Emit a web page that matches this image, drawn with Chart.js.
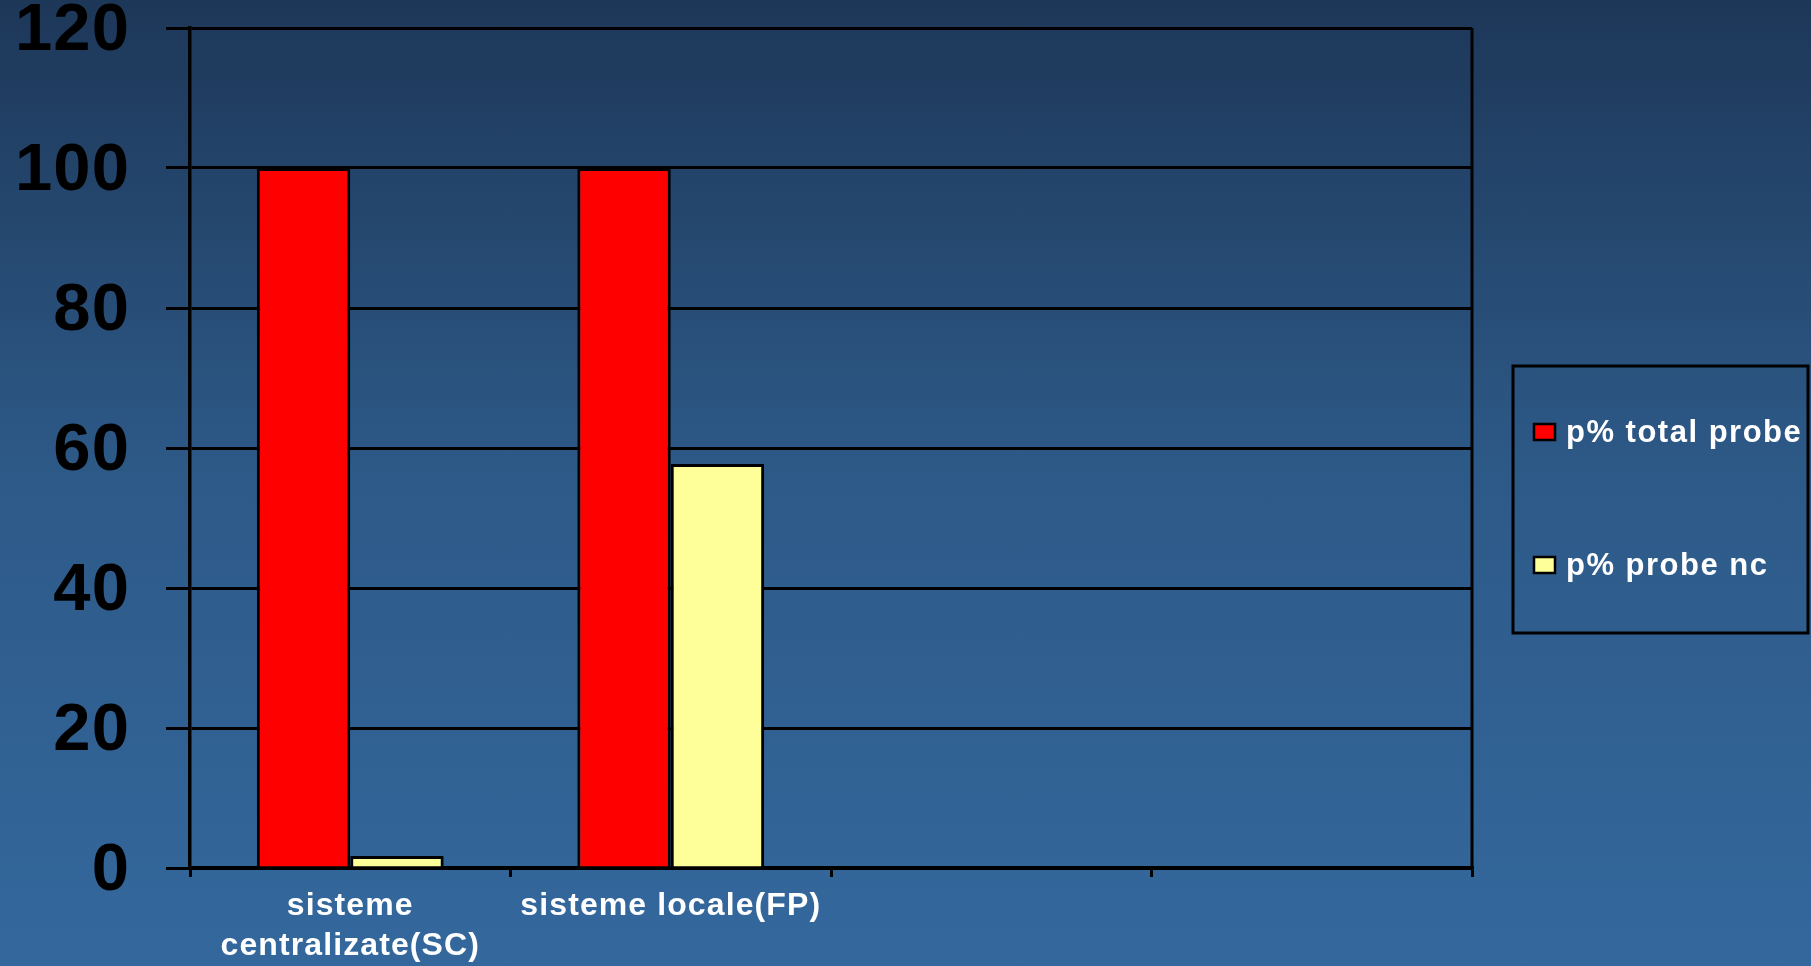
<!DOCTYPE html>
<html lang="ro">
<head>
  <meta charset="UTF-8" />
  <title>Probe sisteme centralizate / locale</title>
  <script src="https://cdn.jsdelivr.net/npm/chart.js"></script>
  <style>
    html, body {
      margin: 0;
      padding: 0;
      width: 100%;
      height: 100%;
      overflow: hidden;
      background: linear-gradient(to bottom, #1d3758 0%, #2d5987 48%, #34689d 100%);
    }
    #chart-container {
      position: relative;
      width: 100vw;
      height: 100vh;
    }
  </style>
</head>
<body>
  <div id="chart-container">
    <canvas id="probeChart"></canvas>
  </div>

  <script>
    // categories (last two are empty slots on the axis)
    const categories = [['sisteme', 'centralizate(SC)'], 'sisteme locale(FP)', '', ''];
    const seriesNames = ['p% total probe', 'p% probe nc'];
    const totalProbe = [100, 100, null, null];
    const probeNc = [1.7, 57.7, null, null];
    const yTicks = [0, 20, 40, 60, 80, 100, 120];

    const FONT = '"Liberation Sans", Arial, sans-serif';
    const colors = ['#ff0000', '#ffff99'];

    // slightly wider letter spacing for the axis text
    Chart.register({
      id: 'spacedText',
      beforeDraw(chart) {
        chart.ctx.letterSpacing = '1.1px';
      }
    });

    // frame on the right side of the plot + boxed legend
    Chart.register({
      id: 'frameAndLegend',
      afterDraw(chart) {
        const ctx = chart.ctx;
        const area = chart.chartArea;
        ctx.save();
        ctx.strokeStyle = '#000000';
        ctx.lineWidth = 3;
        ctx.beginPath();
        ctx.moveTo(area.right, area.top);
        ctx.lineTo(area.right, area.bottom);
        ctx.stroke();

        // legend box
        ctx.lineWidth = 3;
        ctx.strokeRect(1513, 366, 295, 267);

        const rows = [432, 565];
        ctx.font = 'bold 31px ' + FONT;
        ctx.letterSpacing = '1.5px';
        ctx.textBaseline = 'middle';
        ctx.textAlign = 'left';
        chart.data.datasets.forEach((ds, i) => {
          const y = rows[i];
          ctx.fillStyle = ds.backgroundColor;
          ctx.fillRect(1534, y - 8, 21, 16);
          ctx.lineWidth = 2.5;
          ctx.strokeStyle = '#000000';
          ctx.strokeRect(1534, y - 8, 21, 16);
          ctx.fillStyle = '#ffffff';
          ctx.fillText(ds.label, 1566, y + 1);
        });
        ctx.restore();
      }
    });

    const ctx = document.getElementById('probeChart').getContext('2d');

    new Chart(ctx, {
      type: 'bar',
      data: {
        labels: categories,
        datasets: [
          {
            label: seriesNames[0],
            data: totalProbe,
            backgroundColor: colors[0],
            borderColor: '#000000',
            borderWidth: 3,
            categoryPercentage: 0.583,
            barPercentage: 1.0
          },
          {
            label: seriesNames[1],
            data: probeNc,
            backgroundColor: colors[1],
            borderColor: '#000000',
            borderWidth: 3,
            categoryPercentage: 0.583,
            barPercentage: 1.0
          }
        ]
      },
      options: {
        responsive: true,
        maintainAspectRatio: false,
        animation: false,
        layout: {
          padding: { top: 28, right: 339, bottom: 0, left: 0 }
        },
        plugins: {
          legend: { display: false },
          tooltip: { enabled: false }
        },
        scales: {
          x: {
            grid: {
              offset: true,
              drawOnChartArea: false,
              drawTicks: true,
              tickLength: 9,
              color: '#000000',
              lineWidth: 3
            },
            border: { display: true, color: '#000000', width: 3.5 },
            ticks: {
              color: '#ffffff',
              padding: 9,
              maxRotation: 0,
              autoSkip: false,
              font: { family: FONT, size: 32, weight: 'bold', lineHeight: 1.25 }
            },
            afterFit(scale) {
              scale.height = 98;
              scale.paddingLeft = 0;
              scale.paddingRight = 0;
            }
          },
          y: {
            min: 0,
            max: 120,
            afterBuildTicks(scale) {
              scale.ticks = yTicks.map(v => ({ value: v }));
            },
            grid: {
              color: '#000000',
              lineWidth: 3,
              drawTicks: true,
              tickLength: 24
            },
            border: { display: true, color: '#000000', width: 3.5 },
            ticks: {
              color: '#000000',
              padding: 36,
              labelOffset: 4,
              font: { family: FONT, size: 67, weight: 'bold' }
            },
            afterFit(scale) {
              scale.width = 190;
              scale.paddingTop = 0;
              scale.paddingBottom = 0;
            }
          }
        }
      }
    });
  </script>
</body>
</html>
